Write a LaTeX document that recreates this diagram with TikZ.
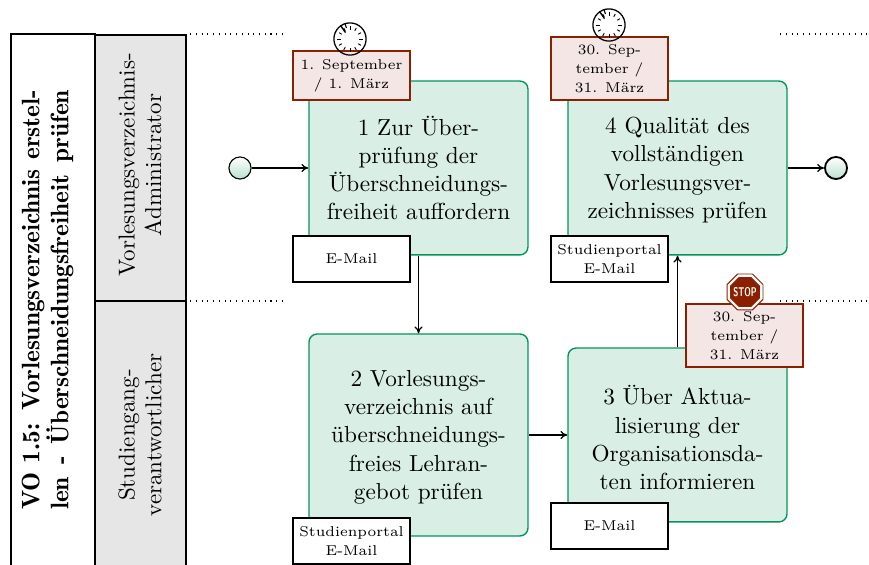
\documentclass[tikz,border=0pt]{standalone}
\usetikzlibrary{shapes.geometric,arrows.meta,shadings,calc}
\definecolor{procfill}{HTML}{D9EEE4}
\definecolor{procdraw}{HTML}{00955A}
\definecolor{notefill}{HTML}{F3E6E4}
\definecolor{notedraw}{HTML}{8B2000}
\definecolor{lanefill}{HTML}{E6E6E6}
\tikzset{
  x=0.4348pt,y=-0.4348pt,
  flow/.style={draw=black,line width=0.55pt,-{To[length=3pt,width=3.6pt]}},
  proc/.style={draw=procdraw,fill=procfill,line width=0.6pt,rounded corners=3.5pt,minimum width=95.2pt,align=center,inner sep=0pt,font=\fontsize{10.1}{12.3}\selectfont},
  note/.style={draw=notedraw,fill=notefill,line width=0.6pt,minimum width=50.9pt,align=center,inner sep=0pt,font=\fontsize{6.2}{8.3}\selectfont},
  doc/.style={draw=black,fill=white,line width=0.5pt,minimum width=50.9pt,align=center,inner sep=0pt,font=\fontsize{6.2}{8.3}\selectfont},
  lane/.style={draw=black,fill=lanefill,line width=0.75pt},
  lanetext/.style={rotate=90,align=center,inner sep=0pt,font=\fontsize{10}{11.6}\selectfont},
  titletext/.style={rotate=90,inner sep=0pt,font=\fontsize{11}{12}\fontseries{b}\selectfont},
  lanedots/.style={draw=black,line width=0.5pt,dotted},
  startev/.style={circle,draw=black,top color=white,bottom color=procfill!85!procdraw,minimum size=9.6pt,inner sep=0pt,line width=0.5pt},
  endev/.style={startev,line width=0.8pt},
  clockface/.style={circle,draw=black,minimum size=14pt,inner sep=0pt,line width=0.55pt},
}
\begin{document}
\begin{tikzpicture}
\useasboundingbox (0,0) rectangle (869,565);
\begin{scope}
\clip (0,0) rectangle (869,565);
\path[draw=black,fill=white,line width=0.5pt] (11,34) rectangle (95,590);
\path[lane] (95,35) rectangle (186,301);
\path[lane] (95,301) rectangle (186,590);
\end{scope}
\node[titletext] (title1) at (33,300) {\makebox[182.6pt][s]{VO 1.5: Vorlesungsverzeichnis erstel-}};
\node[titletext] (title2) at (60,300) {\makebox[182.6pt][s]{len - Überschneidungsfreiheit prüfen}};
\node[lanetext] (lane1) at (140,165) {Vorlesungsverzeichnis-\\Administrator};
\node[lanetext] (lane2) at (140,435) {Studiengang-\\verantwortlicher};
\coordinate (d1a) at (190,34); \coordinate (d1b) at (287,34);
\coordinate (d2a) at (780,34); \coordinate (d2b) at (869,34);
\coordinate (d3a) at (190,301); \coordinate (d3b) at (287,301);
\coordinate (d4a) at (780,301); \coordinate (d4b) at (869,301);
\draw[lanedots] (d1a) -- (d1b);
\draw[lanedots] (d2a) -- (d2b);
\draw[lanedots] (d3a) -- (d3b);
\draw[lanedots] (d4a) -- (d4b);
\node[proc,minimum height=75.6pt] (p1) at (418.5,168) {1 Zur Über-\\prüfung der\\Überschneidungs-\\freiheit auffordern};
\node[proc,minimum height=75.6pt] (p4) at (677.5,168) {\rule{0pt}{8.8pt}4 Qualität des\\vollständigen\\Vorlesungsver-\\zeichnisses prüfen};
\node[proc,minimum height=87.8pt] (p2) at (418.5,435) {\rule{0pt}{8.8pt}2 Vorlesungs-\\verzeichnis auf\\überschneidungs-\\freies Lehran-\\gebot prüfen};
\node[proc,minimum height=75.6pt] (p3) at (677.5,435) {\rule{0pt}{10.8pt}3 Über Aktua-\\lisierung der\\Organisationsda-\\ten informieren};
\node[startev] (s) at (240,168) {};
\node[endev] (e) at (836,168) {};
\draw[flow] (s) -- (p1);
\draw[flow] (p1.south) -- (p2.north);
\draw[flow] (p2.east |- 0,435) -- (p3.west |- 0,435);
\draw[flow] (p3.north) -- (p4.south);
\draw[flow] (p4.east |- 0,168) -- (e);
\node[note,minimum height=21.3pt] (n1) at (351.5,75.5) {1. September\\/ 1. März};
\node[note,minimum height=27.4pt] (n4) at (609.5,68.5) {30. Sep-\\tember /\\31. März};
\node[note,minimum height=27.4pt] (n3) at (744.5,335.5) {30. Sep-\\tember /\\31. März};
\node[doc,minimum height=20pt] (d1) at (351.5,259) {E-Mail};
\node[doc,minimum height=20pt] (d4) at (609.5,259) {Studienportal\\E-Mail};
\node[doc,minimum height=20pt] (d3) at (609.5,526) {E-Mail};
\node[doc,minimum height=20pt] (d2) at (351.5,541) {Studienportal\\E-Mail};
\node[clockface] (c1) at (350,39) {};
\node[clockface] (c2) at (609,25) {};
\foreach \c in {c1,c2}{
  \foreach \a in {0,30,...,330}{
    \draw[line width=0.4pt] ($(\c)+(\a:4.1pt)$) -- ($(\c)+(\a:5.5pt)$);
  }
  \draw[line width=0.5pt] (\c) -- ($(\c)+(108:5pt)$);
  \draw[line width=0.6pt] (\c) -- ($(\c)+(125:3.4pt)$);
}
\node[regular polygon,regular polygon sides=8,draw=notedraw,fill=white,minimum size=16.9pt,inner sep=0pt,line width=0.4pt] (stopo) at (745,292) {};
\node[regular polygon,regular polygon sides=8,fill=notedraw,minimum size=14pt,inner sep=0pt] (stopi) at (745,292) {};
\node[inner sep=0pt,text=white,xscale=0.65,font=\sffamily\bfseries\fontsize{5.5}{6}\selectfont] (stopt) at (745,292) {STOP};
\end{tikzpicture}
\end{document}
